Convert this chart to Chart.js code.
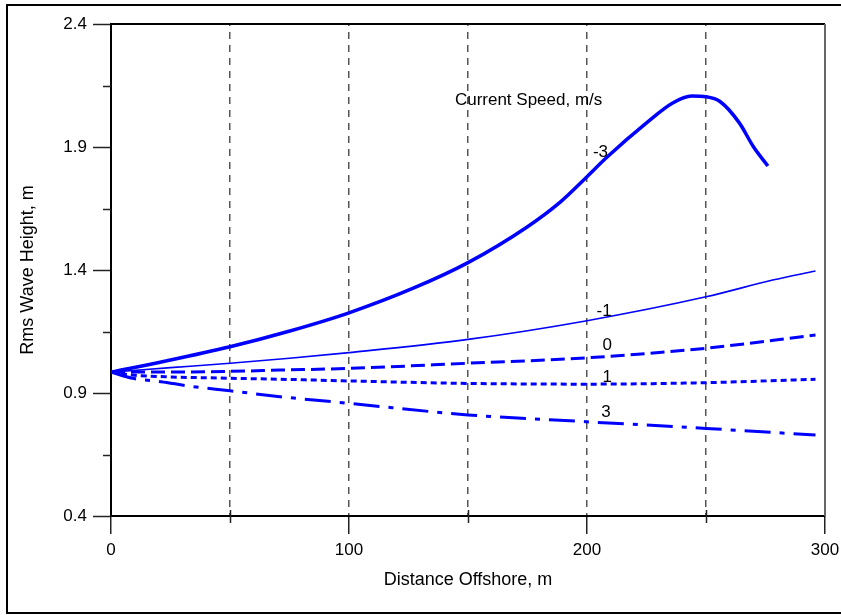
<!DOCTYPE html>
<html>
<head>
<meta charset="utf-8">
<script src="https://cdn.jsdelivr.net/npm/chart.js@4.4.1/dist/chart.umd.min.js"></script>
<style>
  html, body { margin: 0; padding: 0; background: #fff; }
  canvas { display: block; }
</style>
</head>
<body>
<canvas id="waveChart" width="841" height="615"></canvas>
<script>
// DATA

const xNeg3 = [0, 23, 50, 74, 100, 127, 150, 175, 189, 200, 208, 225, 236, 244, 250, 256, 264, 270, 276];
const yNeg3 = [0.985, 1.030, 1.088, 1.149, 1.226, 1.326, 1.430, 1.576, 1.678, 1.779, 1.855, 1.998, 2.079, 2.107, 2.104, 2.084, 1.998, 1.900, 1.823];

const xNeg1 = [0, 25, 50, 75, 100, 150, 200, 250, 278, 296];
const yNeg1 = [0.985, 1.003, 1.021, 1.041, 1.064, 1.118, 1.194, 1.291, 1.359, 1.396];

const xZero = [0, 25, 50, 71, 100, 150, 200, 250, 296];
const yZero = [0.985, 0.985, 0.988, 0.993, 1.000, 1.021, 1.043, 1.082, 1.136];

const xPos1 = [0, 9, 23, 50, 71, 100, 150, 200, 250, 296];
const yPos1 = [0.985, 0.973, 0.966, 0.960, 0.956, 0.949, 0.939, 0.936, 0.942, 0.956];

const xPos3 = [0, 9, 21, 33, 50, 71, 100, 150, 200, 250, 296];
const yPos3 = [0.985, 0.960, 0.946, 0.928, 0.909, 0.885, 0.858, 0.811, 0.783, 0.756, 0.729];

const seriesNames = ["-3", "-1", "0", "1", "3"];

const xTicks = [0, 50, 100, 150, 200, 250, 300];
const xTickLabels = ["0", "", "100", "", "200", "", "300"];
const xMinor = [50, 150, 250];

const yTicks = [0.4, 0.9, 1.4, 1.9, 2.4];
const yTickLabels = ["0.4", "0.9", "1.4", "1.9", "2.4"];
const yMinor = [0.65, 1.15, 1.65, 2.15];


// LABEL PLACEMENT (data coords, left edge / vertical centre)

const notes = [
    { text: "Current Speed, m/s", x: 144.5, y: 2.090 },
    { text: "-3", x: 202.5, y: 1.880 },
    { text: "-1", x: 204, y: 1.233 },
    { text: "0", x: 206.5, y: 1.093 },
    { text: "1", x: 206.5, y: 0.965 },
    { text: "3", x: 206, y: 0.820 }
];

const FONT = "'Liberation Sans', Arial, Helvetica, sans-serif";
const BLUE = "#0000ff";

function pts(xs, ys) {
    return xs.map((v, i) => ({ x: v, y: ys[i] }));
}


// EXTRA DRAWING: plot frame, minor ticks, notes, outer box

const extras = {
    id: "extras",
    beforeDatasetsDraw(chart) {
        const { ctx, chartArea: a, scales: { x, y } } = chart;
        const line = (x1, y1, x2, y2) => {
            ctx.beginPath(); ctx.moveTo(x1, y1); ctx.lineTo(x2, y2); ctx.stroke();
        };
        ctx.save();
        ctx.lineWidth = 2;
        ctx.strokeStyle = "#000";
        line(a.left, a.top, a.right, a.top);
        ctx.strokeStyle = "#666";
        line(a.right, a.top, a.right, a.bottom);

        ctx.strokeStyle = "#222";
        ctx.lineWidth = 1.5;
        yMinor.forEach(v => {
            const py = Math.round(y.getPixelForValue(v)) + 0.5;
            line(a.left - 8, py, a.left, py);
        });
        xMinor.forEach(v => {
            const px = Math.round(x.getPixelForValue(v)) + 0.5;
            line(px, a.bottom - 6, px, a.bottom + 7);
        });
        ctx.restore();
    },
    afterDraw(chart) {
        const { ctx, scales: { x, y } } = chart;
        ctx.save();
        ctx.fillStyle = "#000";
        ctx.font = "17px " + FONT;
        ctx.textAlign = "left";
        ctx.textBaseline = "middle";
        notes.forEach(n => ctx.fillText(n.text, x.getPixelForValue(n.x), y.getPixelForValue(n.y)));

        // outer box (right side falls off the picture in the reference)
        ctx.strokeStyle = "#000";
        ctx.lineWidth = 2;
        ctx.beginPath();
        ctx.moveTo(841, 5); ctx.lineTo(7, 5); ctx.lineTo(7, 613); ctx.lineTo(841, 613);
        ctx.stroke();
        ctx.restore();
    }
};


// CHART

const ds = (label, xs, ys, width, dash) => ({
    label: label,
    data: pts(xs, ys),
    borderColor: BLUE,
    borderWidth: width,
    borderDash: dash,
    pointRadius: 0,
    fill: false,
    cubicInterpolationMode: "monotone"
});

new Chart(document.getElementById("waveChart"), {
    type: "line",
    data: {
        datasets: [
            ds(seriesNames[0], xNeg3, yNeg3, 3.5, []),
            ds(seriesNames[1], xNeg1, yNeg1, 1.6, []),
            ds(seriesNames[2], xZero, yZero, 3, [14, 6]),
            ds(seriesNames[3], xPos1, yPos1, 3, [6, 4]),
            ds(seriesNames[4], xPos3, yPos3, 3, [26, 9, 5, 9])
        ]
    },
    options: {
        responsive: false,
        animation: false,
        devicePixelRatio: 1,
        layout: { padding: { top: 24, right: 16, left: 0, bottom: 0 } },
        plugins: {
            legend: { display: false },
            tooltip: { enabled: false }
        },
        scales: {
            x: {
                type: "linear",
                min: 0,
                max: 300,
                afterBuildTicks: s => { s.ticks = xTicks.map(v => ({ value: v })); },
                afterFit: s => { s.height = 99; s.paddingLeft = 0; s.paddingRight = 0; },
                ticks: {
                    autoSkip: false,
                    maxRotation: 0,
                    padding: 6,
                    color: "#000",
                    font: { family: FONT, size: 17 },
                    callback: (v, i) => xTickLabels[i]
                },
                grid: {
                    drawOnChartArea: true,
                    tickLength: 18,
                    lineWidth: 1.5,
                    tickWidth: 1.5,
                    color: c => (c.tick && c.tick.value > 0 && c.tick.value < 300) ? "#555" : "rgba(0,0,0,0)",
                    tickColor: c => (c.tick && c.tick.value % 100 === 0) ? "#222" : "rgba(0,0,0,0)"
                },
                border: { display: true, color: "#000", width: 2, dash: [7, 6], dashOffset: -8 },
                title: {
                    display: true,
                    text: "Distance Offshore, m",
                    color: "#000",
                    font: { family: FONT, size: 18 },
                    padding: { top: 0, bottom: 24 }
                }
            },
            y: {
                type: "linear",
                min: 0.4,
                max: 2.4,
                afterBuildTicks: s => { s.ticks = yTicks.map(v => ({ value: v })); },
                afterFit: s => { s.width = 111; s.paddingTop = 0; s.paddingBottom = 0; },
                ticks: {
                    autoSkip: false,
                    padding: 6,
                    color: "#000",
                    font: { family: FONT, size: 17 },
                    callback: (v, i) => yTickLabels[i]
                },
                grid: {
                    drawOnChartArea: false,
                    tickLength: 18,
                    tickWidth: 1.5,
                    tickColor: "#222"
                },
                border: { display: true, color: "#000", width: 2 },
                title: {
                    display: true,
                    text: "Rms Wave Height, m",
                    color: "#000",
                    font: { family: FONT, size: 18 },
                    padding: { top: 17, bottom: 0 }
                }
            }
        }
    },
    plugins: [extras]
});
</script>
</body>
</html>
